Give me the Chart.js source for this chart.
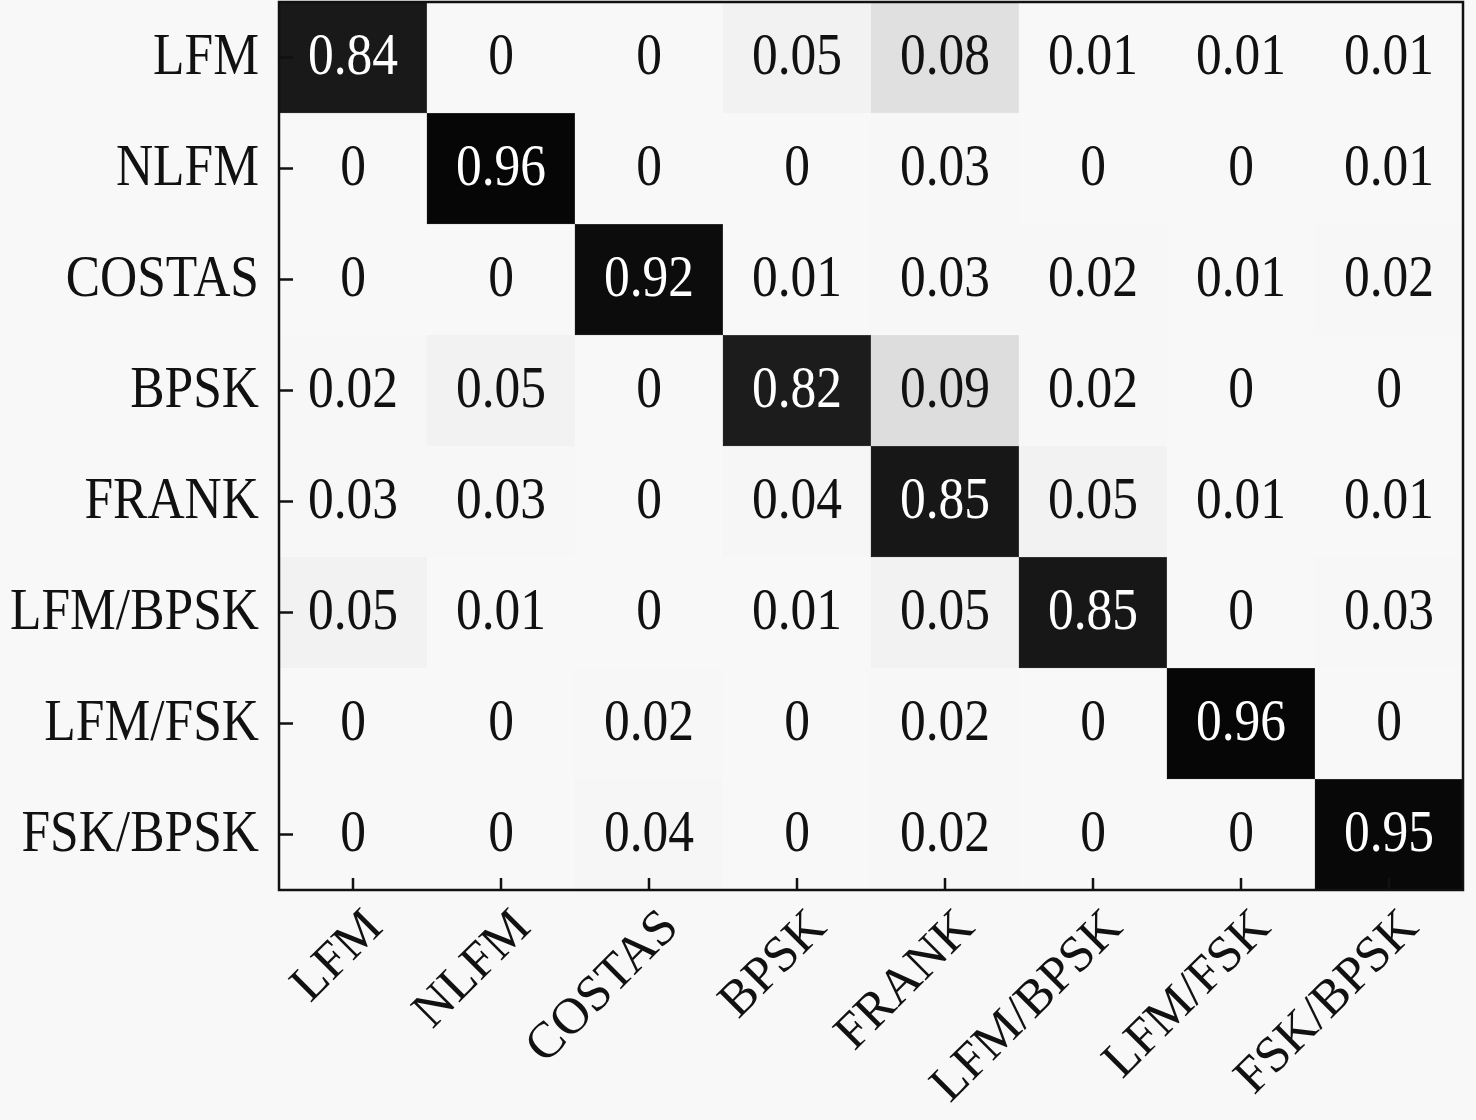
<!DOCTYPE html>
<html>
<head>
<meta charset="utf-8">
<script src="https://cdn.jsdelivr.net/npm/chart.js@4.4.1/dist/chart.umd.min.js"></script>
<style>
    html, body { margin: 0; padding: 0; background: #f8f8f8; }
    #wrap { width: 1476px; height: 1120px; }
</style>
</head>
<body>
<div id="wrap"><canvas id="cm" width="1476" height="1120"></canvas></div>
<script>
// Clases (mismo orden en filas y columnas)
const classes = ['LFM', 'NLFM', 'COSTAS', 'BPSK', 'FRANK', 'LFM/BPSK', 'LFM/FSK', 'FSK/BPSK'];

// Matriz de confusión, una fila por clase real
const rowLFM     = [0.84, 0, 0, 0.05, 0.08, 0.01, 0.01, 0.01];
const rowNLFM    = [0, 0.96, 0, 0, 0.03, 0, 0, 0.01];
const rowCOSTAS  = [0, 0, 0.92, 0.01, 0.03, 0.02, 0.01, 0.02];
const rowBPSK    = [0.02, 0.05, 0, 0.82, 0.09, 0.02, 0, 0];
const rowFRANK   = [0.03, 0.03, 0, 0.04, 0.85, 0.05, 0.01, 0.01];
const rowLFMBPSK = [0.05, 0.01, 0, 0.01, 0.05, 0.85, 0, 0.03];
const rowLFMFSK  = [0, 0, 0.02, 0, 0.02, 0, 0.96, 0];
const rowFSKBPSK = [0, 0, 0.04, 0, 0.02, 0, 0, 0.95];

const rows = [rowLFM, rowNLFM, rowCOSTAS, rowBPSK, rowFRANK, rowLFMBPSK, rowLFMFSK, rowFSKBPSK];

const FONT = '"Liberation Serif", "Times New Roman", serif';
const FONT_SIZE = 51.5;
const STRETCH_Y = 1.14; // el texto horizontal original está algo estirado en vertical
const BG = '#f8f8f8';

// Mapa de grises (valor -> nivel), claro en valores bajos y casi negro en la diagonal
const grayStops = [[0, 248], [0.04, 246], [0.05, 242], [0.08, 224], [0.82, 28], [0.96, 6], [1, 0]];

function cellColor(v) {
    let g = grayStops[grayStops.length - 1][1];
    for (let k = 0; k < grayStops.length - 1; k++) {
        const [v0, g0] = grayStops[k];
        const [v1, g1] = grayStops[k + 1];
        if (v <= v1) {
            g = g0 + (g1 - g0) * (v - v0) / (v1 - v0);
            break;
        }
    }
    g = Math.round(g);
    return `rgb(${g}, ${g}, ${g})`;
}

// Cada fila es un dataset apilado de altura 1 (eje y invertido)
const datasets = rows.map((row, i) => ({
    label: classes[i],
    data: row.map(() => 1),
    backgroundColor: row.map(cellColor),
    borderColor: row.map(cellColor),
    borderWidth: 0.5,
    borderSkipped: false,
    barPercentage: 1.0,
    categoryPercentage: 1.0
}));

function drawText(ctx, text, x, y, align, baseline, angle, stretch) {
    ctx.save();
    ctx.translate(x, y);
    ctx.scale(1, stretch);
    if (angle) ctx.rotate(angle);
    ctx.textAlign = align;
    ctx.textBaseline = baseline;
    ctx.fillText(text, 0, 0);
    ctx.restore();
}

// Fondo, valores de las celdas, etiquetas, marco y ticks hacia dentro
const matrixPlugin = {
    id: 'matrixPlugin',
    beforeDraw(chart) {
        const ctx = chart.ctx;
        ctx.save();
        ctx.fillStyle = BG;
        ctx.fillRect(0, 0, chart.width, chart.height);
        ctx.restore();
    },
    afterDraw(chart) {
        const ctx = chart.ctx;
        const xs = chart.scales.x;
        const ys = chart.scales.y;
        const area = chart.chartArea;

        ctx.save();
        ctx.font = `${FONT_SIZE}px ${FONT}`;

        // valores
        rows.forEach((row, i) => {
            row.forEach((v, j) => {
                const x = xs.getPixelForValue(j);
                const y = ys.getPixelForValue(i + 0.5);
                ctx.fillStyle = v > 0.5 ? '#ffffff' : '#111111';
                drawText(ctx, String(v), x, y + 1, 'center', 'middle', 0, STRETCH_Y);
            });
        });

        // etiquetas del eje y
        ctx.fillStyle = '#111111';
        ys.ticks.forEach((t, i) => {
            drawText(ctx, classes[i], area.left - 20, ys.getPixelForValue(t.value) + 1, 'right', 'middle', 0, STRETCH_Y);
        });

        // etiquetas del eje x, giradas 45°
        ctx.font = `51px ${FONT}`;
        classes.forEach((c, j) => {
            const x = xs.getPixelForValue(j);
            drawText(ctx, c, x + 22, area.bottom + 30, 'right', 'middle', -Math.PI / 4, 1);
        });

        // marco
        ctx.strokeStyle = '#111111';
        ctx.lineWidth = 2.5;
        ctx.strokeRect(area.left, area.top, area.right - area.left, area.bottom - area.top);

        // ticks hacia dentro
        ctx.beginPath();
        classes.forEach((c, j) => {
            const x = xs.getPixelForValue(j);
            ctx.moveTo(x, area.bottom);
            ctx.lineTo(x, area.bottom - 12);
        });
        ys.ticks.forEach((t) => {
            const y = ys.getPixelForValue(t.value);
            ctx.moveTo(area.left, y);
            ctx.lineTo(area.left + 14, y);
        });
        ctx.stroke();
        ctx.restore();
    }
};

new Chart(document.getElementById('cm'), {
    type: 'bar',
    data: {
        labels: classes,
        datasets: datasets
    },
    options: {
        responsive: false,
        animation: false,
        layout: { padding: { top: 2, right: 13, left: 0, bottom: 0 } },
        scales: {
            x: {
                stacked: true,
                grid: { display: false, drawTicks: false },
                border: { display: false },
                ticks: { display: false },
                afterFit(scale) { scale.height = 230; }
            },
            y: {
                stacked: true,
                reverse: true,
                min: 0,
                max: 8,
                grid: { display: false, drawTicks: false },
                border: { display: false },
                afterBuildTicks(scale) {
                    scale.ticks = classes.map((c, i) => ({ value: i + 0.5 }));
                },
                ticks: { display: false },
                afterFit(scale) { scale.width = 279; }
            }
        },
        plugins: {
            legend: { display: false },
            tooltip: { enabled: false },
            title: { display: false }
        }
    },
    plugins: [matrixPlugin]
});
</script>
</body>
</html>
